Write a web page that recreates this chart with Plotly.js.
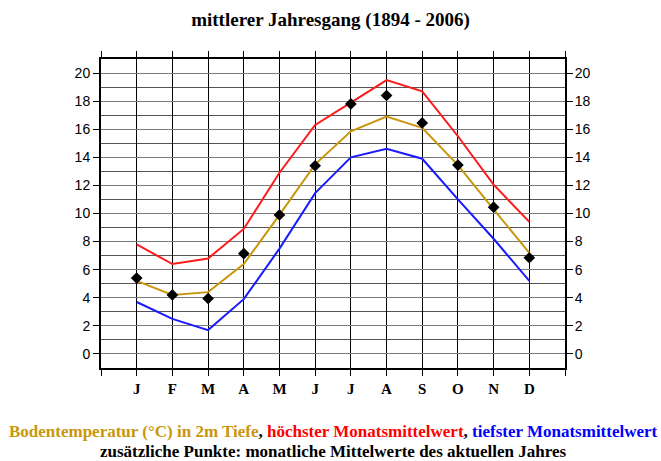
<!DOCTYPE html>
<html>
<head>
<meta charset="utf-8">
<script src="https://cdn.plot.ly/plotly-3.0.1.min.js"></script>
<style>html,body{margin:0;padding:0;background:#fff;}#chart{width:661px;height:461px;}</style>
</head>
<body>
<div id="chart"></div>
<script>
const months = ["J","F","M","A","M","J","J","A","S","O","N","D"];
const monthPos = [1,2,3,4,5,6,7,8,9,10,11,12];
const meanTemp = [5.2,4.2,4.4,6.4,9.9,13.5,15.85,16.9,16.1,13.45,10.3,7.2];
const maxTemp  = [7.8,6.4,6.8,8.9,12.9,16.3,17.9,19.5,18.7,15.5,12.05,9.4];
const minTemp  = [3.7,2.5,1.7,3.9,7.5,11.45,14.0,14.6,13.9,11.0,8.2,5.2];
const currentYear = [5.4,4.2,3.95,7.15,9.9,13.4,17.8,18.4,16.45,13.45,10.45,6.85];
const yTicks = [0,2,4,6,8,10,12,14,16,18,20];

const GOLD = "#C9960C";
const serif = "Liberation Serif, Times New Roman, serif";
const sans = "Liberation Sans, Arial, sans-serif";

const traces = [
  {x: monthPos, y: maxTemp, mode: "lines", line: {color: "#FF1A1A", width: 2}, hoverinfo: "skip"},
  {x: monthPos, y: meanTemp, mode: "lines", line: {color: GOLD, width: 2}, hoverinfo: "skip"},
  {x: monthPos, y: minTemp, mode: "lines", line: {color: "#1A1AFF", width: 2}, hoverinfo: "skip"},
  {x: monthPos, y: currentYear, mode: "markers", marker: {symbol: "diamond", color: "#000", size: 9}, hoverinfo: "skip"},
  {x: [monthPos[0]], y: [yTicks[0]], yaxis: "y2", mode: "markers", marker: {opacity: 0}, hoverinfo: "skip"}
];

const layout = {
  width: 661, height: 461,
  margin: {l: 101, r: 96, t: 59, b: 93},
  showlegend: false,
  paper_bgcolor: "#fff", plot_bgcolor: "#fff",
  title: {text: "<b>mittlerer Jahresgang (1894 - 2006)</b>", font: {family: serif, size: 19, color: "#000"}, x: 0.5, xanchor: "center", y: 0.957, yanchor: "middle"},
  xaxis: {
    range: [0, 13], tickvals: [0,1,2,3,4,5,6,7,8,9,10,11,12,13],
    ticktext: [""].concat(months).concat([""]),
    tickfont: {family: serif, size: 15, color: "#000", weight: "bold"},
    ticks: "outside", ticklen: 6, tickcolor: "#000", tickwidth: 1,
    showgrid: true, gridcolor: "#000", gridwidth: 1,
    showline: true, linecolor: "#000", linewidth: 2, mirror: "allticks",
    zeroline: false, fixedrange: true
  },
  yaxis: {
    range: [-1, 21], tickvals: yTicks,
    tickfont: {family: sans, size: 14, color: "#000"},
    ticks: "outside", ticklen: 6, tickcolor: "#000", tickwidth: 1,
    showgrid: true, gridcolor: "#7a7a7a", gridwidth: 1,
    minor: {dtick: 1, tick0: 0, showgrid: true, gridcolor: "#555", gridwidth: 1, ticks: ""},
    showline: true, linecolor: "#000", linewidth: 2, mirror: "allticks",
    zeroline: false, fixedrange: true
  },
  yaxis2: {
    overlaying: "y", side: "right", range: [-1, 21], tickvals: yTicks,
    tickfont: {family: sans, size: 14, color: "#000"},
    ticks: "outside", ticklen: 6, tickcolor: "#000",
    showgrid: false, zeroline: false, showline: false, fixedrange: true
  },
  annotations: [
    {xref: "paper", yref: "paper", x: 0.5, y: -0.207, xanchor: "center", yanchor: "middle", showarrow: false,
     text: "<b><span style=\"color:" + GOLD + "\">Bodentemperatur (°C) in 2m Tiefe</span>, <span style=\"color:#FF0000\">höchster Monatsmittelwert</span>, <span style=\"color:#0000FF\">tiefster Monatsmittelwert</span></b>",
     font: {family: serif, size: 17, color: "#000"}},
    {xref: "paper", yref: "paper", x: 0.5, y: -0.269, xanchor: "center", yanchor: "middle", showarrow: false,
     text: "<b>zusätzliche Punkte: monatliche Mittelwerte des aktuellen Jahres</b>",
     font: {family: serif, size: 17, color: "#000"}}
  ]
};

Plotly.newPlot("chart", traces, layout, {displayModeBar: false, staticPlot: true});
</script>
</body>
</html>
